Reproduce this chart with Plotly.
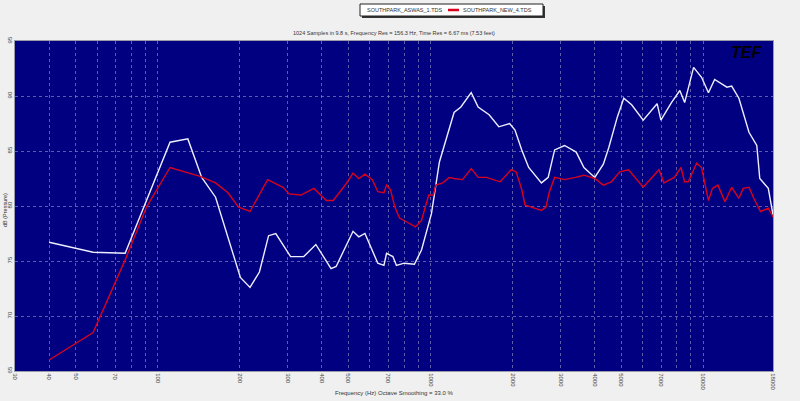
import plotly.graph_objects as go

# ---- data ----
freq_aswas = [40, 58, 76, 111, 129, 145, 163, 201, 218, 236, 255, 271, 307, 343, 380, 432, 451,
              520, 546, 575, 641, 675, 690, 728, 750, 801, 873, 927, 1008, 1078, 1220, 1292, 1410,
              1495, 1640, 1780, 1950, 2040, 2160, 2290, 2550, 2700, 2850, 3100, 3420, 3650, 4000,
              4300, 4500, 4840, 5110, 5460, 6020, 6350, 6770, 6990, 7640, 8200, 8540, 9210, 9850,
              10440, 11000, 12200, 12700, 13500, 14700, 15700, 16100, 17300, 18000]
db_aswas = [76.7, 75.8, 75.7, 85.8, 86.1, 82.6, 80.8, 73.5, 72.6, 74.0, 77.3, 77.5, 75.4, 75.4, 76.5,
            74.3, 74.5, 77.7, 77.2, 77.5, 74.8, 74.6, 75.7, 75.4, 74.6, 74.8, 74.7, 76.0, 79.3, 84.0,
            88.5, 89.0, 90.3, 89.0, 88.3, 87.2, 87.5, 86.9, 85.1, 83.5, 82.1, 82.6, 85.1, 85.5, 84.9,
            83.5, 82.6, 83.8, 85.3, 88.1, 89.8, 89.2, 87.8, 88.5, 89.3, 87.8, 89.4, 90.5, 89.4, 92.6,
            91.7, 90.3, 91.5, 90.8, 90.9, 89.8, 86.7, 85.5, 82.5, 81.6, 79.2]

freq_new = [40, 58, 76, 91, 111, 129, 143, 163, 181, 198, 218, 253, 288, 303, 335, 374, 415, 440,
            490, 520, 546, 575, 612, 641, 675, 690, 713, 740, 770, 825, 880, 927, 985, 1025, 1045,
            1110, 1170, 1220, 1310, 1410, 1495, 1600, 1800, 1975, 2060, 2160, 2220, 2340, 2550,
            2650, 2720, 2850, 3100, 3400, 3650, 4000, 4300, 4600, 4940, 5320, 6020, 6880, 7170,
            7830, 8280, 8540, 8800, 9450, 9850, 10440, 10800, 11300, 12000, 12700, 13500, 14000,
            14700, 15300, 16200, 17300, 18000]
db_new = [66.0, 68.5, 75.1, 79.9, 83.5, 83.0, 82.7, 82.1, 81.2, 79.9, 79.5, 82.4, 81.7, 81.1, 81.0,
          81.6, 80.5, 80.5, 82.0, 83.0, 82.5, 82.9, 82.4, 81.3, 81.2, 81.9, 81.5, 79.9, 78.9, 78.5,
          78.1, 78.7, 81.0, 81.0, 81.9, 82.1, 82.6, 82.5, 82.4, 83.4, 82.6, 82.6, 82.2, 83.3, 83.1,
          81.5, 80.1, 79.9, 79.6, 79.9, 81.2, 82.6, 82.4, 82.6, 82.8, 82.5, 81.9, 82.2, 83.1, 83.3,
          81.7, 83.3, 82.1, 82.6, 83.5, 82.2, 82.2, 83.9, 83.5, 80.5, 81.6, 81.9, 80.4, 81.7, 80.7,
          81.6, 81.7, 80.7, 79.5, 79.8, 79.0]

grid_freqs = [40, 50, 60, 70, 80, 90, 100, 200, 300, 400, 500, 600, 700, 800, 900, 1000,
              2000, 3000, 4000, 5000, 6000, 7000, 8000, 9000, 10000, 18000]
tick_labels = ["40", "50", "", "70", "", "", "100", "200", "300", "400", "500", "", "700", "", "",
               "1000", "2000", "3000", "4000", "5000", "", "7000", "", "", "10000", "18000"]
y_ticks = [65, 70, 75, 80, 85, 90, 95]

name_a = "SOUTHPARK_ASWAS_1.TDS"
name_b = "SOUTHPARK_NEW_4.TDS"

W, H = 800, 401
L, R, T, B = 15, 27, 41, 30
pw = W - L - R
ph = H - T - B

def px(x):
    return (x - L) / pw

def py(y):
    return 1 - (y - T) / ph

fig = go.Figure()
fig.add_trace(go.Scatter(x=freq_aswas, y=db_aswas, mode="lines", name=name_a,
                         line=dict(color="#eeeeff", width=1.4), showlegend=False))
fig.add_trace(go.Scatter(x=freq_new, y=db_new, mode="lines", name=name_b,
                         line=dict(color="#d8001c", width=1.4), showlegend=False))

font = "Liberation Sans, Arial, sans-serif"
grid_col = "rgba(140,140,195,0.65)"

fig.update_layout(
    width=W, height=H,
    margin=dict(l=L, r=R, t=T, b=B, autoexpand=False),
    paper_bgcolor="#f0f0f0",
    plot_bgcolor="#000080",
    font=dict(family=font, size=6, color="#333333"),
    xaxis=dict(type="log", range=[1.4771, 4.2553], tickvals=[30] + grid_freqs,
               ticktext=["30"] + tick_labels, tickangle=90, ticks="", showgrid=True,
               gridcolor=grid_col, griddash="dot", gridwidth=1, zeroline=False,
               showline=True, linecolor="#9a9aa8", mirror=True, automargin=False,
               tickfont=dict(size=6, color="#444444")),
    yaxis=dict(range=[65, 95], tickvals=y_ticks, ticktext=[str(v) for v in y_ticks],
               tickangle=-90, ticks="", showgrid=True, gridcolor=grid_col, griddash="dot",
               gridwidth=1, zeroline=False, showline=True, linecolor="#9a9aa8", mirror=True,
               automargin=False, tickfont=dict(size=6, color="#444444")),
)

# title line
fig.add_annotation(xref="paper", yref="paper", x=px(394), y=py(33), showarrow=False,
                   text="1024 Samples in 9.8 s, Frequency Res = 156.3 Hz, Time Res = 6.67 ms (7.53 feet)",
                   font=dict(size=5.5, color="#333333"), xanchor="center", yanchor="middle")
# axis titles
fig.add_annotation(xref="paper", yref="paper", x=px(394), y=py(393), showarrow=False,
                   text="Frequency (Hz) Octave Smoothing = 33.0 %",
                   font=dict(size=6, color="#333333"), xanchor="center", yanchor="middle")
fig.add_annotation(xref="paper", yref="paper", x=px(5), y=py(210), showarrow=False,
                   text="dB (Pressure)", textangle=-90,
                   font=dict(size=5.5, color="#333333"), xanchor="center", yanchor="middle")

# legend box
fig.add_shape(type="rect", xref="paper", yref="paper", x0=px(362), x1=px(545), y0=py(6), y1=py(18),
              line=dict(width=0), fillcolor="#333333")
fig.add_shape(type="rect", xref="paper", yref="paper", x0=px(360), x1=px(543), y0=py(4), y1=py(16),
              line=dict(color="#222222", width=1), fillcolor="white")
fig.add_annotation(xref="paper", yref="paper", x=px(365), y=py(10), showarrow=False, text=name_a,
                   font=dict(size=5.5, color="#333333"), xanchor="left", yanchor="middle")
fig.add_shape(type="line", xref="paper", yref="paper", x0=px(448), x1=px(459), y0=py(10), y1=py(10),
              line=dict(color="#d8001c", width=2.5))
fig.add_annotation(xref="paper", yref="paper", x=px(461), y=py(10), showarrow=False, text=name_b,
                   font=dict(size=5.5, color="#333333"), xanchor="left", yanchor="middle")

# logo
fig.add_annotation(xref="paper", yref="paper", x=px(746), y=py(52), showarrow=False, text="TEF",
                   font=dict(size=16, color="black", family="Liberation Sans, Arial", weight="bold",
                             style="italic"),
                   xanchor="center", yanchor="middle")

fig.write_html("out.html", config={"displayModeBar": False},
               post_script="document.body.style.margin='0';")
